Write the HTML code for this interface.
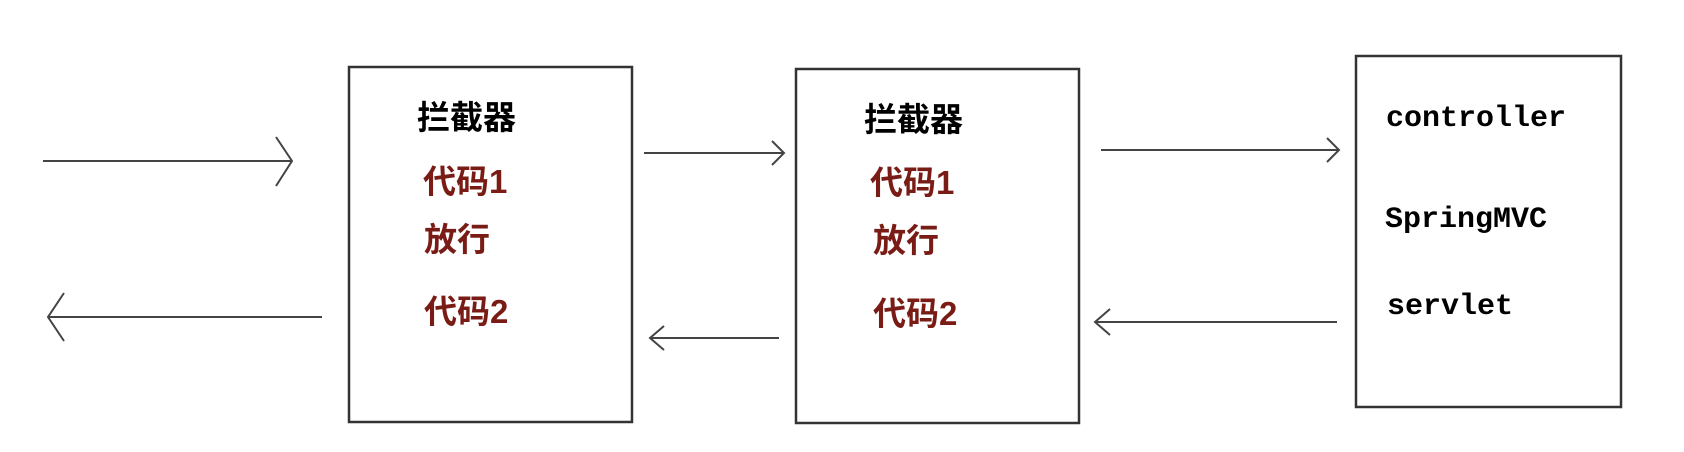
<!DOCTYPE html>
<html><head><meta charset="utf-8"><style>
html,body{margin:0;padding:0;background:#fff;}
svg{display:block}
.cn{font-family:"Liberation Sans","Noto Sans CJK SC",sans-serif;font-size:33px;font-weight:bold}
.red{fill:#7a1c16}
.mono{font-family:"Liberation Mono",monospace;font-size:30px;font-weight:bold;fill:#000}
</style></head><body>
<svg width="1684" height="452" viewBox="0 0 1684 452">
<g fill="none" stroke="#333" stroke-width="2.5">
<rect x="349" y="67" width="283" height="355"/>
<rect x="796" y="69" width="283" height="354"/>
<rect x="1356" y="56" width="265" height="351"/>
</g>
<g fill="none" stroke="#444" stroke-width="2">
<line x1="43" y1="161" x2="292" y2="161"/><polyline points="276,137 292,161 276,186"/>
<line x1="48" y1="317" x2="322" y2="317"/><polyline points="64,293 48,317 64,341"/>
<line x1="644" y1="153" x2="784" y2="153"/><polyline points="772,141 784,153 772,165"/>
<line x1="650" y1="338" x2="779" y2="338"/><polyline points="664,326 650,338 664,350"/>
<line x1="1101" y1="150" x2="1339" y2="150"/><polyline points="1327,138 1339,150 1327,162"/>
<line x1="1095" y1="322" x2="1337" y2="322"/><polyline points="1110,309 1095,322 1110,335"/>
</g>
<text class="cn" x="417" y="129" fill="#000">拦截器</text>
<text class="cn red" x="423" y="193">代码1</text>
<text class="cn red" x="424" y="251">放行</text>
<text class="cn red" x="424" y="323">代码2</text>
<text class="cn" x="864" y="131" fill="#000">拦截器</text>
<text class="cn red" x="870" y="194">代码1</text>
<text class="cn red" x="873" y="252">放行</text>
<text class="cn red" x="873" y="325">代码2</text>
<text class="mono" x="1386" y="126">controller</text>
<text class="mono" x="1385" y="227">SpringMVC</text>
<text class="mono" x="1387" y="314">servlet</text>
</svg>
</body></html>
